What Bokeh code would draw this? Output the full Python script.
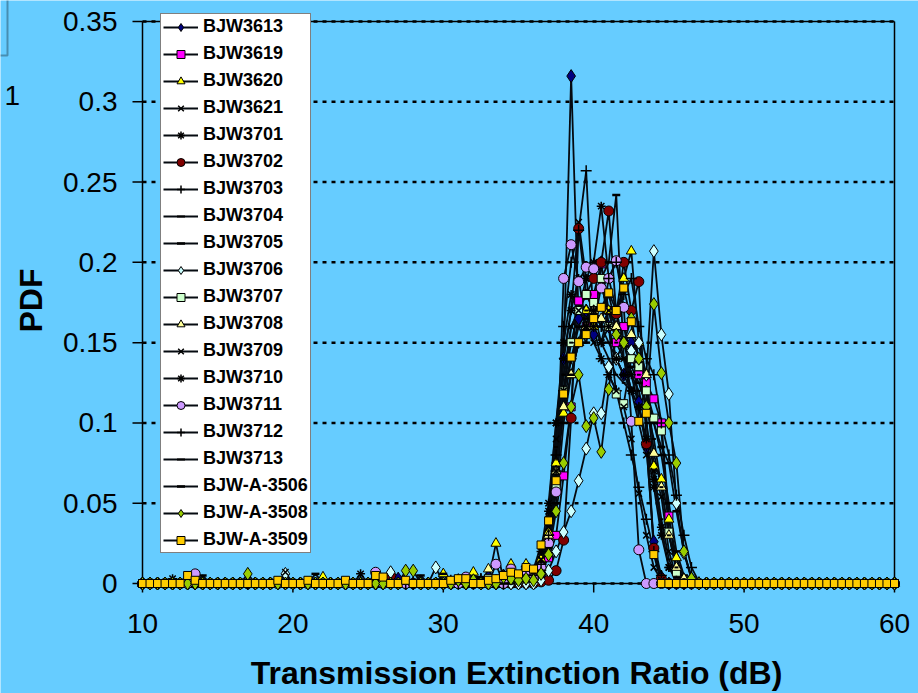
from math import pi

from bokeh.core.properties import value
from bokeh.embed import file_html
from bokeh.models import BoxAnnotation, Label, Legend, LegendItem, Range1d
from bokeh.plotting import figure
from bokeh.resources import INLINE

# Extinction-ratio grid: 10 dB to 60 dB in 0.5 dB steps (101 points)
er_db = [10 + 0.5 * k for k in range(101)]

x_ticks = [10, 20, 30, 40, 50, 60]
x_labels = ["10", "20", "30", "40", "50", "60"]
y_ticks = [0, 0.05, 0.1, 0.15, 0.2, 0.25, 0.3, 0.35]
y_labels = ["0", "0.05", "0.1", "0.15", "0.2", "0.25", "0.3", "0.35"]

# PDF values, one row per 5 dB (10 points), last value at 60 dB
bjw3613 = [0, 0, 0, 0, 0, 0, 0, 0, 0, 0,
           0, 0, 0, 0, 0, 0, 0, 0, 0, 0,
           0, 0, 0, 0, 0, 0, 0, 0, 0, 0,
           0, 0, 0, 0, 0.003, 0, 0, 0, 0, 0,
           0, 0, 0.002, 0, 0.003, 0, 0.004, 0, 0.005, 0.004,
           0.002, 0.003, 0.004, 0.01, 0.03, 0.075, 0.14, 0.316, 0.165, 0.17,
           0.155, 0.2, 0.16, 0.14, 0.13, 0.15, 0.113, 0.085, 0.026, 0.004,
           0, 0, 0, 0, 0, 0, 0, 0, 0, 0,
           0, 0, 0, 0, 0, 0, 0, 0, 0, 0,
           0, 0, 0, 0, 0, 0, 0, 0, 0, 0,
           0]
bjw3619 = [0, 0, 0, 0, 0, 0, 0, 0, 0, 0,
           0, 0, 0, 0, 0, 0, 0, 0, 0, 0,
           0, 0, 0, 0, 0, 0, 0, 0, 0, 0,
           0, 0, 0, 0, 0, 0, 0, 0, 0, 0,
           0, 0, 0, 0, 0, 0, 0, 0, 0.002, 0,
           0.001, 0.002, 0.004, 0.008, 0.016, 0.03, 0.067, 0.11, 0.176, 0.16,
           0.18, 0.199, 0.17, 0.15, 0.16, 0.14, 0.13, 0.125, 0.115, 0.1,
           0.042, 0.008, 0, 0, 0, 0, 0, 0, 0, 0,
           0, 0, 0, 0, 0, 0, 0, 0, 0, 0,
           0, 0, 0, 0, 0, 0, 0, 0, 0, 0,
           0]
bjw3620 = [0, 0, 0, 0, 0, 0, 0, 0, 0, 0,
           0, 0, 0, 0, 0, 0, 0, 0, 0, 0,
           0, 0, 0, 0, 0.004, 0, 0, 0, 0, 0,
           0, 0, 0, 0, 0, 0, 0, 0, 0, 0,
           0.006, 0, 0, 0, 0.007, 0, 0.002, 0.025, 0.002, 0.012,
           0.004, 0.012, 0.008, 0.015, 0.032, 0.075, 0.106, 0.13, 0.15, 0.17,
           0.16, 0.185, 0.17, 0.16, 0.19, 0.207, 0.15, 0.12, 0.073, 0.065,
           0.04, 0.016, 0.003, 0, 0, 0, 0, 0, 0, 0,
           0, 0, 0, 0, 0, 0, 0, 0, 0, 0,
           0, 0, 0, 0, 0, 0, 0, 0, 0, 0,
           0]
bjw3621 = [0, 0, 0, 0, 0, 0, 0, 0, 0, 0,
           0, 0, 0, 0, 0, 0, 0, 0, 0, 0,
           0, 0, 0, 0, 0, 0, 0, 0, 0, 0,
           0, 0, 0, 0, 0, 0, 0, 0, 0, 0,
           0, 0, 0, 0.003, 0, 0, 0, 0, 0.005, 0.004,
           0.002, 0.004, 0.006, 0.015, 0.04, 0.09, 0.14, 0.17, 0.225, 0.19,
           0.16, 0.15, 0.17, 0.16, 0.14, 0.12, 0.1, 0.08, 0.07, 0.054,
           0.02, 0.004, 0, 0, 0, 0, 0, 0, 0, 0,
           0, 0, 0, 0, 0, 0, 0, 0, 0, 0,
           0, 0, 0, 0, 0, 0, 0, 0, 0, 0,
           0]
bjw3701 = [0, 0, 0, 0, 0.003, 0, 0, 0, 0, 0,
           0, 0, 0, 0, 0, 0, 0, 0, 0, 0,
           0, 0, 0, 0, 0, 0, 0, 0, 0, 0,
           0, 0, 0, 0, 0, 0, 0, 0, 0, 0,
           0, 0, 0, 0, 0, 0, 0.003, 0, 0.004, 0.006,
           0.003, 0.004, 0.005, 0.012, 0.045, 0.1, 0.15, 0.18, 0.17, 0.19,
           0.2, 0.235, 0.19, 0.17, 0.15, 0.13, 0.11, 0.085, 0.06, 0.03,
           0.01, 0.002, 0, 0, 0, 0, 0, 0, 0, 0,
           0, 0, 0, 0, 0, 0, 0, 0, 0, 0,
           0, 0, 0, 0, 0, 0, 0, 0, 0, 0,
           0]
bjw3702 = [0, 0, 0, 0, 0, 0, 0, 0, 0, 0,
           0, 0, 0, 0, 0, 0, 0, 0, 0, 0,
           0, 0, 0, 0, 0, 0, 0, 0, 0, 0,
           0, 0, 0, 0.005, 0, 0, 0, 0, 0, 0,
           0, 0, 0, 0, 0, 0, 0, 0, 0, 0,
           0, 0, 0, 0.001, 0.002, 0.008, 0.027, 0.103, 0.221, 0.18,
           0.19, 0.2, 0.232, 0.168, 0.2, 0.17, 0.188, 0.087, 0.022, 0.003,
           0, 0, 0, 0, 0, 0, 0, 0, 0, 0,
           0, 0, 0, 0, 0, 0, 0, 0, 0, 0,
           0, 0, 0, 0, 0, 0, 0, 0, 0, 0,
           0]
bjw3703 = [0, 0, 0, 0, 0, 0, 0, 0, 0, 0,
           0, 0, 0, 0, 0, 0, 0, 0, 0, 0,
           0, 0, 0, 0, 0, 0, 0, 0, 0, 0,
           0, 0, 0, 0, 0, 0, 0, 0, 0, 0,
           0, 0.002, 0, 0, 0, 0.003, 0, 0.002, 0, 0.004,
           0.002, 0.003, 0.004, 0.01, 0.03, 0.08, 0.16, 0.2, 0.22, 0.257,
           0.16, 0.14, 0.13, 0.12, 0.1, 0.08, 0.06, 0.04, 0.02, 0.005,
           0, 0, 0, 0, 0, 0, 0, 0, 0, 0,
           0, 0, 0, 0, 0, 0, 0, 0, 0, 0,
           0, 0, 0, 0, 0, 0, 0, 0, 0, 0,
           0]
bjw3704 = [0, 0, 0, 0, 0, 0, 0, 0.004, 0, 0,
           0, 0, 0, 0, 0, 0, 0, 0, 0, 0,
           0, 0, 0, 0, 0, 0, 0, 0, 0, 0,
           0, 0, 0, 0, 0, 0, 0, 0, 0, 0,
           0, 0, 0.003, 0, 0, 0, 0, 0, 0.003, 0,
           0.002, 0.003, 0.005, 0.012, 0.04, 0.09, 0.13, 0.16, 0.17, 0.18,
           0.17, 0.16, 0.17, 0.15, 0.14, 0.13, 0.12, 0.1, 0.07, 0.04,
           0.015, 0.004, 0, 0, 0, 0, 0, 0, 0, 0,
           0, 0, 0, 0, 0, 0, 0, 0, 0, 0,
           0, 0, 0, 0, 0, 0, 0, 0, 0, 0,
           0]
bjw3705 = [0, 0, 0, 0, 0, 0, 0, 0, 0.005, 0,
           0, 0, 0, 0, 0, 0, 0, 0, 0, 0,
           0, 0, 0, 0.006, 0, 0, 0, 0, 0, 0,
           0, 0, 0, 0, 0, 0, 0, 0, 0, 0,
           0.006, 0, 0, 0, 0, 0, 0, 0, 0, 0,
           0.001, 0.002, 0.003, 0.008, 0.025, 0.06, 0.11, 0.14, 0.16, 0.15,
           0.17, 0.19, 0.2, 0.242, 0.14, 0.12, 0.11, 0.12, 0.1, 0.08,
           0.05, 0.02, 0.005, 0, 0, 0, 0, 0, 0, 0,
           0, 0, 0, 0, 0, 0, 0, 0, 0, 0,
           0, 0, 0, 0, 0, 0, 0, 0, 0, 0,
           0]
bjw3706 = [0, 0, 0, 0, 0, 0, 0, 0, 0, 0,
           0, 0, 0, 0, 0, 0, 0, 0, 0, 0.006,
           0, 0, 0, 0, 0, 0, 0, 0, 0, 0,
           0, 0, 0, 0.007, 0, 0, 0, 0, 0, 0.01,
           0, 0, 0, 0, 0, 0, 0, 0, 0, 0,
           0, 0, 0, 0.002, 0.008, 0.02, 0.032, 0.045, 0.064, 0.084,
           0.106, 0.106, 0.135, 0.14, 0.15, 0.145, 0.15, 0.13, 0.207, 0.155,
           0.118, 0.05, 0.019, 0.003, 0, 0, 0, 0, 0, 0,
           0, 0, 0, 0, 0, 0, 0, 0, 0, 0,
           0, 0, 0, 0, 0, 0, 0, 0, 0, 0,
           0]
bjw3707 = [0, 0, 0, 0, 0, 0, 0, 0, 0, 0,
           0, 0, 0, 0, 0, 0, 0, 0, 0, 0,
           0, 0, 0, 0, 0, 0, 0, 0, 0, 0,
           0, 0, 0, 0, 0, 0, 0, 0, 0, 0,
           0, 0, 0, 0, 0, 0, 0.003, 0, 0, 0.008,
           0.002, 0.003, 0.004, 0.01, 0.025, 0.06, 0.12, 0.15, 0.17, 0.18,
           0.175, 0.19, 0.16, 0.118, 0.112, 0.14, 0.135, 0.12, 0.103, 0.095,
           0.032, 0.007, 0, 0, 0, 0, 0, 0, 0, 0,
           0, 0, 0, 0, 0, 0, 0, 0, 0, 0,
           0, 0, 0, 0, 0, 0, 0, 0, 0, 0,
           0]
bjw3708 = [0, 0, 0, 0, 0, 0, 0, 0, 0, 0,
           0, 0, 0, 0, 0, 0, 0, 0, 0, 0,
           0, 0, 0, 0, 0, 0, 0, 0, 0, 0,
           0, 0, 0, 0, 0, 0, 0, 0, 0, 0,
           0, 0, 0, 0, 0, 0, 0.009, 0, 0, 0.005,
           0.002, 0.004, 0.004, 0.01, 0.03, 0.07, 0.11, 0.13, 0.15, 0.16,
           0.17, 0.165, 0.18, 0.16, 0.15, 0.155, 0.14, 0.13, 0.081, 0.06,
           0.03, 0.01, 0.003, 0, 0, 0, 0, 0, 0, 0,
           0, 0, 0, 0, 0, 0, 0, 0, 0, 0,
           0, 0, 0, 0, 0, 0, 0, 0, 0, 0,
           0]
bjw3709 = [0, 0, 0, 0, 0, 0, 0, 0, 0, 0,
           0, 0, 0, 0, 0, 0, 0, 0, 0, 0.007,
           0, 0, 0, 0, 0, 0, 0, 0, 0, 0,
           0, 0, 0, 0, 0, 0, 0, 0, 0, 0,
           0, 0, 0, 0, 0, 0, 0, 0, 0, 0.004,
           0.003, 0.004, 0.006, 0.015, 0.035, 0.07, 0.12, 0.16, 0.17, 0.16,
           0.15, 0.14, 0.13, 0.12, 0.11, 0.09, 0.056, 0.03, 0.01, 0.002,
           0, 0, 0, 0, 0, 0, 0, 0, 0, 0,
           0, 0, 0, 0, 0, 0, 0, 0, 0, 0,
           0, 0, 0, 0, 0, 0, 0, 0, 0, 0,
           0]
bjw3710 = [0, 0, 0, 0, 0, 0, 0, 0, 0, 0,
           0, 0, 0, 0, 0, 0, 0, 0, 0, 0,
           0, 0, 0, 0, 0, 0, 0, 0, 0, 0.006,
           0, 0, 0, 0, 0, 0, 0, 0, 0, 0,
           0, 0, 0, 0, 0, 0, 0, 0.003, 0, 0.006,
           0.003, 0.005, 0.007, 0.02, 0.05, 0.1, 0.14, 0.17, 0.19, 0.16,
           0.17, 0.15, 0.16, 0.14, 0.13, 0.12, 0.11, 0.09, 0.065, 0.035,
           0.01, 0.002, 0, 0, 0, 0, 0, 0, 0, 0,
           0, 0, 0, 0, 0, 0, 0, 0, 0, 0,
           0, 0, 0, 0, 0, 0, 0, 0, 0, 0,
           0]
bjw3711 = [0, 0, 0, 0, 0, 0, 0, 0.006, 0, 0,
           0, 0, 0, 0, 0, 0, 0, 0, 0, 0,
           0, 0, 0, 0, 0, 0, 0, 0, 0, 0,
           0, 0.007, 0, 0, 0, 0, 0, 0, 0, 0,
           0, 0, 0, 0.004, 0, 0, 0, 0.012, 0, 0.009,
           0.004, 0.008, 0.003, 0.01, 0.025, 0.057, 0.19, 0.211, 0.188, 0.197,
           0.196, 0.184, 0.19, 0.201, 0.172, 0.101, 0.021, 0, 0, 0,
           0, 0, 0, 0, 0, 0, 0, 0, 0, 0,
           0, 0, 0, 0, 0, 0, 0, 0, 0, 0,
           0, 0, 0, 0, 0, 0, 0, 0, 0, 0,
           0]
bjw3712 = [0, 0, 0, 0, 0, 0, 0, 0, 0, 0,
           0, 0, 0, 0, 0, 0, 0, 0, 0, 0,
           0, 0, 0, 0, 0, 0, 0, 0, 0, 0,
           0, 0, 0, 0, 0, 0, 0, 0, 0, 0,
           0, 0, 0, 0, 0, 0.003, 0, 0, 0, 0.005,
           0.002, 0.003, 0.005, 0.012, 0.03, 0.07, 0.12, 0.14, 0.15, 0.16,
           0.17, 0.16, 0.19, 0.2, 0.18, 0.19, 0.16, 0.14, 0.13, 0.1,
           0.08, 0.055, 0.03, 0.01, 0.001, 0, 0, 0, 0, 0,
           0, 0, 0, 0, 0, 0, 0, 0, 0, 0,
           0, 0, 0, 0, 0, 0, 0, 0, 0, 0,
           0]
bjw3713 = [0, 0, 0, 0, 0, 0, 0, 0, 0, 0,
           0, 0, 0, 0, 0, 0, 0, 0, 0, 0,
           0, 0, 0, 0, 0, 0, 0, 0, 0, 0,
           0, 0, 0, 0, 0, 0, 0, 0, 0, 0,
           0, 0, 0, 0, 0.002, 0, 0, 0, 0.003, 0,
           0.002, 0.004, 0.006, 0.014, 0.04, 0.085, 0.13, 0.15, 0.16, 0.17,
           0.16, 0.15, 0.14, 0.13, 0.125, 0.12, 0.13, 0.11, 0.09, 0.06,
           0.03, 0.01, 0.002, 0, 0, 0, 0, 0, 0, 0,
           0, 0, 0, 0, 0, 0, 0, 0, 0, 0,
           0, 0, 0, 0, 0, 0, 0, 0, 0, 0,
           0]
bjw_a_3506 = [0, 0, 0, 0, 0, 0, 0, 0, 0, 0,
              0, 0, 0, 0, 0, 0, 0, 0, 0, 0,
              0, 0, 0, 0, 0, 0, 0, 0, 0, 0,
              0, 0, 0, 0, 0, 0, 0, 0.005, 0, 0,
              0, 0, 0, 0, 0, 0.004, 0, 0, 0, 0,
              0.001, 0.002, 0.003, 0.008, 0.022, 0.05, 0.1, 0.13, 0.15, 0.165,
              0.17, 0.16, 0.15, 0.14, 0.13, 0.135, 0.125, 0.11, 0.1, 0.085,
              0.075, 0.045, 0.02, 0.004, 0, 0, 0, 0, 0, 0,
              0, 0, 0, 0, 0, 0, 0, 0, 0, 0,
              0, 0, 0, 0, 0, 0, 0, 0, 0, 0,
              0]
bjw_a_3508 = [0, 0, 0, 0, 0, 0, 0, 0, 0, 0,
              0, 0, 0, 0, 0.006, 0, 0, 0, 0, 0,
              0, 0, 0, 0, 0, 0, 0, 0, 0, 0,
              0, 0, 0, 0, 0, 0.008, 0.008, 0, 0, 0,
              0, 0, 0.002, 0, 0.002, 0, 0, 0, 0.004, 0.003,
              0.002, 0.003, 0.002, 0.006, 0.018, 0.045, 0.075, 0.11, 0.13, 0.098,
              0.103, 0.082, 0.121, 0.155, 0.15, 0.165, 0.14, 0.11, 0.174, 0.131,
              0.1, 0.075, 0.02, 0.003, 0, 0, 0, 0, 0, 0,
              0, 0, 0, 0, 0, 0, 0, 0, 0, 0,
              0, 0, 0, 0, 0, 0, 0, 0, 0, 0,
              0]
bjw_a_3509 = [0, 0, 0, 0, 0, 0, 0.005, 0.002, 0, 0,
              0, 0, 0, 0, 0, 0, 0, 0, 0.002, 0,
              0, 0, 0.002, 0, 0, 0, 0, 0.002, 0, 0,
              0, 0.005, 0.004, 0, 0, 0.002, 0, 0, 0, 0,
              0, 0.002, 0.003, 0.003, 0, 0, 0.002, 0.003, 0.005, 0.007,
              0.006, 0.01, 0.009, 0.024, 0.039, 0.064, 0.118, 0.141, 0.15, 0.155,
              0.165, 0.172, 0.181, 0.17, 0.184, 0.163, 0.101, 0.106, 0.018, 0,
              0, 0, 0, 0, 0, 0, 0, 0, 0, 0,
              0, 0, 0, 0, 0, 0, 0, 0, 0, 0,
              0, 0, 0, 0, 0, 0, 0, 0, 0, 0,
              0]

series_names = ["BJW3613", "BJW3619", "BJW3620", "BJW3621", "BJW3701",
                "BJW3702", "BJW3703", "BJW3704", "BJW3705", "BJW3706",
                "BJW3707", "BJW3708", "BJW3709", "BJW3710", "BJW3711",
                "BJW3712", "BJW3713", "BJW-A-3506", "BJW-A-3508", "BJW-A-3509"]
series_values = [bjw3613, bjw3619, bjw3620, bjw3621, bjw3701,
                 bjw3702, bjw3703, bjw3704, bjw3705, bjw3706,
                 bjw3707, bjw3708, bjw3709, bjw3710, bjw3711,
                 bjw3712, bjw3713, bjw_a_3506, bjw_a_3508, bjw_a_3509]

# marker shape, fill colour, size, outline width
marker_styles = [
    ("diamond", "#000080", 13, 1),
    ("square", "#FF00FF", 8, 1),
    ("triangle", "#FFFF00", 10, 1),
    ("x", "#000000", 9, 1.5),
    ("asterisk", "#000000", 9, 1.5),
    ("circle", "#800000", 10, 1),
    ("cross", "#000000", 11, 1.5),
    ("dash", "#000000", 4, 2),
    ("dash", "#000000", 8, 2.5),
    ("diamond", "#CCFFFF", 13, 1),
    ("square", "#CCFFCC", 8, 1),
    ("triangle", "#FFFF99", 10, 1),
    ("x", "#000000", 9, 1.5),
    ("asterisk", "#000000", 9, 1.5),
    ("circle", "#CC99FF", 10, 1),
    ("cross", "#000000", 11, 1.5),
    ("dash", "#000000", 4, 2),
    ("dash", "#000000", 8, 2.5),
    ("diamond", "#99CC00", 13, 1),
    ("square", "#FFCC00", 8, 1),
]

BG = "#66CCFF"
FONT = "Liberation Sans"
W, H = 918, 693
# plot-area placement on the page (pixels)
LEFT, RIGHT, TOP, BOTTOM = 142, 894, 21, 583

x0, x1 = x_ticks[0], x_ticks[-1]
y0, y1 = y_ticks[0], y_ticks[-1]
px_x = (RIGHT - LEFT) / (x1 - x0)    # pixels per dB
px_y = (BOTTOM - TOP) / (y1 - y0)    # pixels per PDF unit

# the frame fills the whole page so that markers on the axes are not clipped;
# axes, ticks and labels are drawn from the tick arrays on the same scales
p = figure(width=W, height=H, output_backend="svg", toolbar_location=None,
           x_axis_location=None, y_axis_location=None,
           x_range=Range1d(x0 - LEFT / px_x, x1 + (W - RIGHT) / px_x),
           y_range=Range1d(y0 - (H - BOTTOM) / px_y, y1 + TOP / px_y),
           min_border=0, background_fill_color=BG, border_fill_color=BG,
           outline_line_color=None)
p.grid.visible = False

# dotted horizontal gridlines
p.segment(x0=[x0] * len(y_ticks), y0=y_ticks, x1=[x1] * len(y_ticks), y1=y_ticks,
          line_color="black", line_width=2.5, line_dash="4 5")

# plot-area border and axis lines
p.line([x0, x1], [y1, y1], line_color="black", line_width=1.5)
p.line([x1, x1], [y0, y1], line_color="black", line_width=1.5)
p.line([x0, x0], [y0, y1], line_color="black", line_width=1.5)
p.line([x0, x1], [y0, y0], line_color="black", line_width=1.5)

# tick marks
p.segment(x0=[x0 - 10 / px_x] * len(y_ticks), y0=y_ticks,
          x1=[x0] * len(y_ticks), y1=y_ticks, line_color="black", line_width=1.5)
p.segment(x0=x_ticks, y0=[y0] * len(x_ticks),
          x1=x_ticks, y1=[y0 - 9 / px_y] * len(x_ticks), line_color="black", line_width=1.5)

# tick labels
p.text(x=[x0 - 25 / px_x] * len(y_ticks), y=y_ticks, text=y_labels,
       text_font=value(FONT), text_font_size=value("28px"), text_color="black",
       text_align="right", text_baseline="alphabetic")
p.text(x=x_ticks, y=[y0 - 40 / px_y] * len(x_ticks), text=x_labels,
       text_font=value(FONT), text_font_size=value("28px"), text_color="black",
       text_align="center", text_baseline="alphabetic")

# series: all lines first, markers on top
line_rs = []
for vals in series_values:
    line_rs.append(p.line(er_db, vals, line_color="#050a10", line_width=1.8))

mark_rs = []
for vals, (shape, fill, size, lw) in zip(series_values, marker_styles):
    mark_rs.append(p.scatter(er_db, vals, marker=shape, size=size,
                             fill_color=fill, line_color="black", line_width=lw))

items = [LegendItem(label=name, renderers=[lr, mr])
         for name, lr, mr in zip(series_names, line_rs, mark_rs)]
legend = Legend(items=items, location=(160, H - 553),
                label_text_font=FONT, label_text_font_size="18px",
                label_text_font_style="bold", label_text_color="black",
                label_height=20, glyph_height=20, glyph_width=35,
                label_standoff=5, spacing=6, padding=2,
                background_fill_color="white", background_fill_alpha=1,
                border_line_color="black", border_line_width=1.2)
p.add_layout(legend)

# axis titles
p.add_layout(Label(x=(LEFT + RIGHT) / 2 - 2, y=H - 672, x_units="screen", y_units="screen",
                   text="Transmission Extinction Ratio (dB)",
                   text_align="center", text_baseline="alphabetic",
                   text_font=FONT, text_font_size="32px",
                   text_font_style="bold", text_color="black"))
p.add_layout(Label(x=30, y=H - 300, x_units="screen", y_units="screen",
                   text="PDF", angle=pi / 2,
                   text_align="center", text_baseline="alphabetic",
                   text_font=FONT, text_font_size="32px",
                   text_font_style="bold", text_color="black"))

# edge of the neighbouring panel at the top-left corner
p.add_layout(BoxAnnotation(left=-100, right=7, bottom=H - 55, top=H + 100,
                           left_units="screen", right_units="screen",
                           bottom_units="screen", top_units="screen",
                           fill_alpha=0, line_color="black", line_width=2))
p.add_layout(Label(x=4, y=H - 95, x_units="screen", y_units="screen", text="1",
                   text_align="left", text_baseline="alphabetic",
                   text_font=FONT, text_font_size="28px", text_color="black"))

open("out.html", "w").write(file_html(p, INLINE))
